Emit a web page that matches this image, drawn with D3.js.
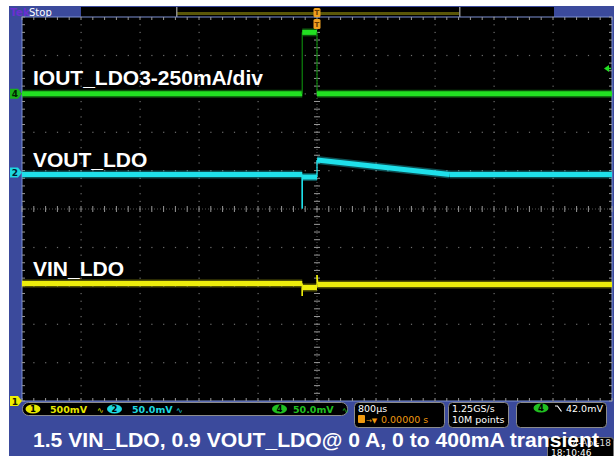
<!DOCTYPE html>
<html><head><meta charset="utf-8">
<script src="https://cdn.jsdelivr.net/npm/d3@7"></script>
<style>html,body{margin:0;padding:0;background:#fff;overflow:hidden}</style>
</head><body>
<svg id="c" width="616" height="456"></svg>
<script>
// ---------- data ----------
const timePerDivUs = 800;                       // horizontal: 800 µs/div, trigger at centre
// CH4 – load current (mA), 250 mA/div
const iTime = [-4000, -200, -200, 0, 0, 4000];
const iLoad = [0, 0, 400, 400, 0, 0];
// CH2 – VOUT_LDO (V), 50 mV/div, 0.9 V offset
const vOutTime = [-4000, -200, -200, -200, 0, 0, 1800, 4000];
const vOut     = [0.8974, 0.8974, 0.853, 0.8941, 0.8941, 0.9163, 0.8974, 0.8974];
// CH1 – VIN_LDO (V), 500 mV/div, ground at bottom
const vInTime = [-4000, -200, -200, -200, 0, 0, 12, 4000];
const vIn     = [1.530, 1.530, 1.367, 1.478, 1.478, 1.641, 1.517, 1.517];

const traceLabels = ["IOUT_LDO3-250mA/div", "VOUT_LDO", "VIN_LDO"];
const chanReadouts = [
  {ch: "1", text: "500mV", col: "#e8e800"},
  {ch: "2", text: "50.0mV", col: "#1ed8e0"},
  {ch: "4", text: "50.0mV", col: "#20c020"}
];
const horizText = ["800µs", "0.00000 s"];
const acqText = ["1.25GS/s", "10M points"];
const trigText = "42.0mV";
const dateText = ["4-Apr-18", "18:10:46"];
const caption = "1.5 VIN_LDO, 0.9 VOUT_LDO@ 0 A, 0 to 400mA transient";

// ---------- layout ----------
const W = 616, H = 456;
const gx0 = 22, gx1 = 612, gy0 = 17, gy1 = 401;
const BLUE = "#3b4a9c";
const svg = d3.select("#c");

svg.append("rect").attr("width", W).attr("height", H).attr("fill", "#fff");
svg.append("rect").attr("x", 9).attr("y", 6).attr("width", 605).attr("height", H - 6).attr("fill", BLUE);

// scales
const x = d3.scaleLinear().domain([-5 * timePerDivUs, 5 * timePerDivUs]).range([gx0, gx1]);
const yDiv = d3.scaleLinear().domain([-5, 5]).range([gy1, gy0]);
const yI = d3.scaleLinear().domain([(-5 - 3) * 250, (5 - 3) * 250]).range([gy1, gy0]);
const vOff = 0.95;
const yVout = d3.scaleLinear().domain([0.9 + (-5 - vOff) * 0.05, 0.9 + (5 - vOff) * 0.05]).range([gy1, gy0]);
const yVin = d3.scaleLinear().domain([0, 5]).range([gy1, gy0]);

// ---------- top bar ----------
svg.append("text").attr("x", 10).attr("y", 15.5).attr("font-family", "DejaVu Sans").attr("font-size", 10.5)
  .attr("font-weight", "bold").attr("fill", "#6b2fd0").text("Tek");
svg.append("text").attr("x", 29).attr("y", 15.5).attr("font-family", "DejaVu Sans").attr("font-size", 10)
  .attr("fill", "#fff").text("Stop");
svg.append("rect").attr("x", 81).attr("y", 7).attr("width", 473).attr("height", 10).attr("fill", "#000");
svg.append("rect").attr("x", 177).attr("y", 12).attr("width", 282).attr("height", 3).attr("fill", "#5a5608");
[176, 459].forEach(px => svg.append("rect").attr("x", px).attr("y", 7).attr("width", 1.5).attr("height", 10).attr("fill", "#8a8a8a"));

// ---------- graticule ----------
const g = svg.append("g");
g.append("rect").attr("x", gx0).attr("y", gy0).attr("width", gx1 - gx0).attr("height", gy1 - gy0)
  .attr("fill", "#000").attr("stroke", "#7d90d4").attr("stroke-width", 1);
const majX = d3.range(0, 11).map(i => x(-4000 + i * timePerDivUs));
const majY = d3.range(0, 11).map(j => yDiv(-5 + j));
const minX = d3.range(0, 51).map(k => x(-4000 + k * timePerDivUs / 5));
const minY = d3.range(0, 51).map(k => yDiv(-5 + k * 0.2));
const dotCol = "#6e6e6e";
majX.slice(1, 10).forEach((px, i) => {
  if (i === 4) return;
  minY.forEach(py => g.append("rect").attr("x", px - 0.5).attr("y", py - 0.5).attr("width", 1.2).attr("height", 1.2).attr("fill", dotCol));
});
majY.slice(1, 10).forEach((py, j) => {
  if (j === 4) return;
  minX.forEach(px => g.append("rect").attr("x", px - 0.5).attr("y", py - 0.5).attr("width", 1.2).attr("height", 1.2).attr("fill", dotCol));
});
const cx = x(0), cy = yDiv(0);
g.append("line").attr("x1", cx).attr("x2", cx).attr("y1", gy0).attr("y2", gy1).attr("stroke", "#555").attr("stroke-dasharray", "1,2");
g.append("line").attr("y1", cy).attr("y2", cy).attr("x1", gx0).attr("x2", gx1).attr("stroke", "#555").attr("stroke-dasharray", "1,2");
minY.forEach(py => g.append("line").attr("x1", cx - 3).attr("x2", cx + 3).attr("y1", py).attr("y2", py).attr("stroke", "#999").attr("stroke-width", 1));
minX.forEach(px => g.append("line").attr("y1", cy - 3).attr("y2", cy + 3).attr("x1", px).attr("x2", px).attr("stroke", "#999").attr("stroke-width", 1));
// border ticks
minX.forEach(px => {
  g.append("line").attr("x1", px).attr("x2", px).attr("y1", gy0).attr("y2", gy0 + 3).attr("stroke", "#999");
  g.append("line").attr("x1", px).attr("x2", px).attr("y1", gy1 - 3).attr("y2", gy1).attr("stroke", "#999");
});
minY.forEach(py => {
  g.append("line").attr("x1", gx0).attr("x2", gx0 + 3).attr("y1", py).attr("y2", py).attr("stroke", "#999");
  g.append("line").attr("x1", gx1 - 3).attr("x2", gx1).attr("y1", py).attr("y2", py).attr("stroke", "#999");
});

// ---------- traces ----------
function drawTrace(times, vals, ys, col, width, edgeCol) {
  const tg = svg.append("g");
  const pts = times.map((t, i) => [x(t), ys(vals[i])]);
  const line = d3.line();
  for (let i = 0; i < pts.length - 1; i++) {
    const a = pts[i], b = pts[i + 1];
    const steep = Math.abs(b[0] - a[0]) < 2;
    if (!steep) {
      tg.append("path").attr("d", line([a, b])).attr("stroke", col).attr("stroke-width", width + 3)
        .attr("stroke-opacity", 0.35).attr("fill", "none");
    }
  }
  for (let i = 0; i < pts.length - 1; i++) {
    const a = pts[i], b = pts[i + 1];
    const steep = Math.abs(b[0] - a[0]) < 2;
    tg.append("path").attr("d", line([a, b])).attr("stroke", steep ? (edgeCol || col) : col)
      .attr("stroke-width", steep ? 1.3 : width).attr("fill", "none");
  }
}
drawTrace(vInTime, vIn, yVin, "#eded0c", 5);
drawTrace(vOutTime, vOut, yVout, "#1fe0ea", 5);
drawTrace(iTime, iLoad, yI, "#22e022", 5, "#0c7a0c");

// trigger marker (orange T) on top bar and graticule
function trigT(px, py, h) {
  svg.append("rect").attr("x", px - 3.5).attr("y", py).attr("width", 7).attr("height", h).attr("rx", 1.5).attr("fill", "#f0a020");
  svg.append("text").attr("x", px).attr("y", py + h - 2).attr("text-anchor", "middle").attr("font-family", "DejaVu Sans")
    .attr("font-size", 7).attr("font-weight", "bold").attr("fill", "#6a3a00").text("T");
}
trigT(cx, 8, 9);
trigT(cx, 19, 10);
// trigger level arrow (right side, CH4)
const trigY = yI(165);
svg.append("path").attr("d", `M${gx1 - 8},${trigY} l5,-3.5 v7 z`).attr("fill", "#22e022");
svg.append("line").attr("x1", gx1 - 4).attr("x2", gx1 - 1).attr("y1", trigY).attr("y2", trigY).attr("stroke", "#22e022").attr("stroke-width", 1.5);

// trace labels
const lab = [[traceLabels[0], 85], [traceLabels[1], 167], [traceLabels[2], 276]];
lab.forEach(([t, by]) => svg.append("text").attr("x", 33).attr("y", by).attr("font-family", "Liberation Sans, Arial")
  .attr("font-size", 21).attr("font-weight", "bold").attr("fill", "#fff").text(t));

// channel markers at left
function chMarker(py, txt, fill, tcol) {
  svg.append("path").attr("d", `M10,${py - 5} h8 l4,5 l-4,5 h-8 z`).attr("fill", fill);
  svg.append("text").attr("x", 15).attr("y", py + 3.5).attr("text-anchor", "middle").attr("font-family", "DejaVu Sans")
    .attr("font-size", 9).attr("font-weight", "bold").attr("fill", tcol).text(txt);
}
chMarker(yI(0), "4", "#19b019", "#002000");
chMarker(yVout(0.9), "2", "#1ed8e0", "#002030");
chMarker(yVin(0), "1", "#f0f000", "#202000");

// ---------- status bar ----------
const sfont = "DejaVu Sans";
function box(bx, by, bw, bh, r) {
  svg.append("rect").attr("x", bx).attr("y", by).attr("width", bw).attr("height", bh).attr("rx", r)
    .attr("fill", "#000").attr("stroke", "#8c8c8c").attr("stroke-width", 1);
}
function pill(pcx, pcy, txt, col) {
  svg.append("ellipse").attr("cx", pcx).attr("cy", pcy).attr("rx", 7.5).attr("ry", 4.5).attr("fill", col);
  svg.append("text").attr("x", pcx).attr("y", pcy + 3.2).attr("text-anchor", "middle").attr("font-family", sfont)
    .attr("font-size", 8.5).attr("font-weight", "bold").attr("fill", "#000").text(txt);
}
function stext(tx, ty, t, col, size) {
  return svg.append("text").attr("x", tx).attr("y", ty).attr("font-family", sfont).attr("font-size", size || 9.5)
    .attr("fill", col).text(t);
}
box(22.5, 402.5, 325, 13, 6);
const pillX = [33, 114.5, 279.5], readX = [50, 132, 293], bwX = [97, 176, 342];
chanReadouts.forEach((c, i) => {
  pill(pillX[i], 409, c.ch, c.col);
  stext(readX[i], 412.5, c.text, c.col).attr("font-weight", "bold");
  stext(bwX[i], 412.5, "∿", c.col, 8);
});
box(354.5, 402.5, 90, 25, 4);
stext(358, 411.5, horizText[0], "#fff");
svg.append("rect").attr("x", 358).attr("y", 415).attr("width", 7).attr("height", 8).attr("rx", 1).attr("fill", "#f09a10");
stext(366, 423, "→▼", "#f09a10", 7);
stext(381, 423, horizText[1], "#f09a10");
box(448.5, 402.5, 60, 25, 4);
stext(452, 411.5, acqText[0], "#fff");
stext(452, 423, acqText[1], "#fff");
box(516.5, 402.5, 90, 25, 4);
pill(541, 408, "4", "#20c020");
svg.append("path").attr("d", "M555,406 h2.5 l4,5.5").attr("stroke", "#fff").attr("fill", "none").attr("stroke-width", 1.2);
stext(566, 411.5, trigText, "#fff");

// timestamp box (partly covered by the caption, as in the reference)
svg.append("rect").attr("x", 547.5).attr("y", 437.5).attr("width", 66).attr("height", 24).attr("rx", 3)
  .attr("fill", "#000").attr("stroke", "#777");
stext(611, 446, dateText[0], "#ddd", 9).attr("text-anchor", "end");
stext(551, 455.5, dateText[1], "#fff", 9);

// caption
svg.append("text").attr("x", 33).attr("y", 447).attr("font-family", "Liberation Sans, Arial").attr("font-size", 21)
  .attr("font-weight", "bold").attr("fill", "#fff")
  .attr("textLength", 566).attr("lengthAdjust", "spacingAndGlyphs").text(caption);
</script>
</body></html>
